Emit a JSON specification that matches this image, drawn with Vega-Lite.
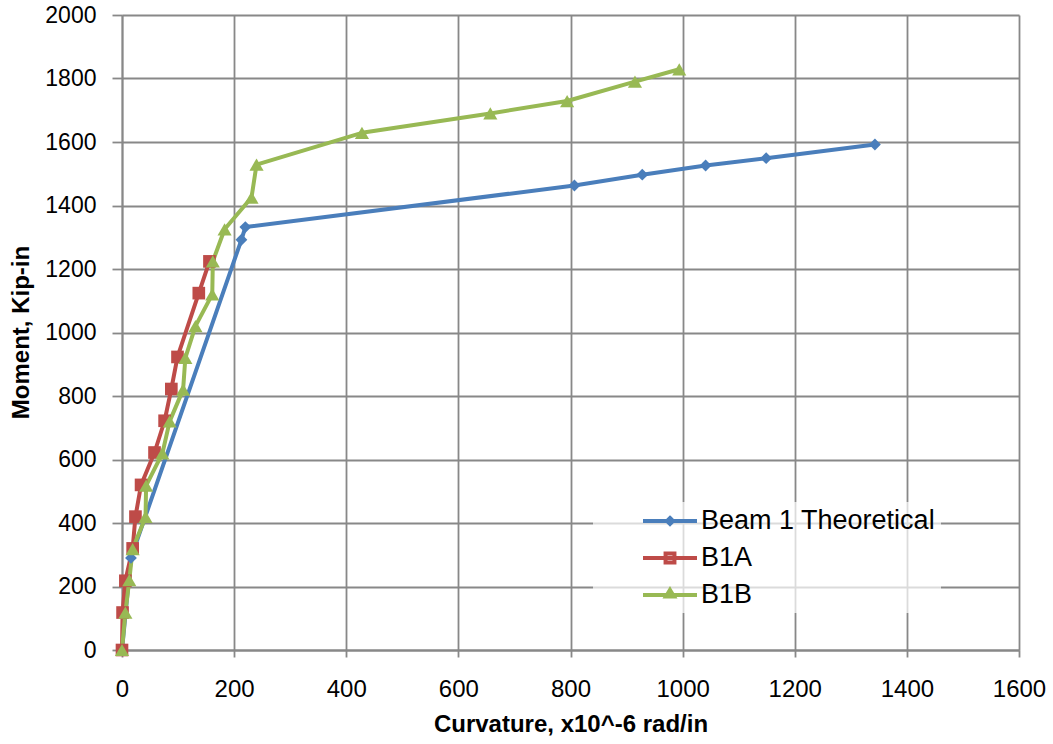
{
  "$schema": "https://vega.github.io/schema/vega-lite/v6.json",
  "width": 897,
  "height": 635,
  "autosize": "none",
  "padding": {"left": 122, "top": 15, "right": 34, "bottom": 94},
  "background": "white",
  "config": {
    "view": {"stroke": null},
    "axis": {
      "gridColor": "#888888",
      "gridWidth": 1.8,
      "domainColor": "#888888",
      "domainWidth": 1.8,
      "tickColor": "#888888",
      "tickWidth": 1.8,
      "labelColor": "#000000",
      "titleColor": "#000000",
      "labelFlush": false,
      "labelOverlap": false,
      "format": "d"
    },
    "legend": {
      "title": null,
      "orient": "none",
      "legendX": 471,
      "legendY": 487,
      "padding": 5,
      "fillColor": "rgba(255,255,255,0.7)",
      "symbolSize": 576,
      "symbolOffset": 58,
      "symbolStrokeWidth": 4,
      "labelFont": "Liberation Sans",
      "labelFontSize": 27,
      "labelColor": "#000000",
      "labelOffset": 17,
      "labelLimit": 0,
      "rowPadding": 10
    }
  },
  "data": {
    "values": [
      {"series": "Beam 1 Theoretical", "curvature": 0, "moment": 0},
      {"series": "Beam 1 Theoretical", "curvature": 16, "moment": 290},
      {"series": "Beam 1 Theoretical", "curvature": 213, "moment": 1292},
      {"series": "Beam 1 Theoretical", "curvature": 220, "moment": 1332},
      {"series": "Beam 1 Theoretical", "curvature": 807, "moment": 1463},
      {"series": "Beam 1 Theoretical", "curvature": 928, "moment": 1497},
      {"series": "Beam 1 Theoretical", "curvature": 1041, "moment": 1526},
      {"series": "Beam 1 Theoretical", "curvature": 1149, "moment": 1549},
      {"series": "Beam 1 Theoretical", "curvature": 1343, "moment": 1592},
      {"series": "B1A", "curvature": 0, "moment": 0},
      {"series": "B1A", "curvature": 1, "moment": 118},
      {"series": "B1A", "curvature": 6, "moment": 218},
      {"series": "B1A", "curvature": 19, "moment": 320},
      {"series": "B1A", "curvature": 24, "moment": 420},
      {"series": "B1A", "curvature": 34, "moment": 520},
      {"series": "B1A", "curvature": 58, "moment": 622},
      {"series": "B1A", "curvature": 76, "moment": 722},
      {"series": "B1A", "curvature": 88, "moment": 822},
      {"series": "B1A", "curvature": 99, "moment": 923},
      {"series": "B1A", "curvature": 137, "moment": 1124},
      {"series": "B1A", "curvature": 156, "moment": 1224},
      {"series": "B1B", "curvature": 0, "moment": 0},
      {"series": "B1B", "curvature": 6, "moment": 118},
      {"series": "B1B", "curvature": 13, "moment": 220},
      {"series": "B1B", "curvature": 19, "moment": 318},
      {"series": "B1B", "curvature": 42, "moment": 419},
      {"series": "B1B", "curvature": 43, "moment": 518},
      {"series": "B1B", "curvature": 72, "moment": 619},
      {"series": "B1B", "curvature": 85, "moment": 720},
      {"series": "B1B", "curvature": 109, "moment": 820},
      {"series": "B1B", "curvature": 113, "moment": 920},
      {"series": "B1B", "curvature": 131, "moment": 1020},
      {"series": "B1B", "curvature": 161, "moment": 1120},
      {"series": "B1B", "curvature": 162, "moment": 1224},
      {"series": "B1B", "curvature": 183, "moment": 1325},
      {"series": "B1B", "curvature": 231, "moment": 1425},
      {"series": "B1B", "curvature": 240, "moment": 1529},
      {"series": "B1B", "curvature": 428, "moment": 1629},
      {"series": "B1B", "curvature": 657, "moment": 1690},
      {"series": "B1B", "curvature": 794, "moment": 1729},
      {"series": "B1B", "curvature": 915, "moment": 1790},
      {"series": "B1B", "curvature": 994, "moment": 1829}
    ]
  },
  "encoding": {
    "x": {
      "field": "curvature",
      "type": "quantitative",
      "scale": {"domain": [0, 1600], "nice": false, "zero": true},
      "axis": {
        "values": [0, 200, 400, 600, 800, 1000, 1200, 1400, 1600],
        "title": "Curvature, x10^-6 rad/in",
        "labelFont": "Liberation Sans",
        "labelFontSize": 24,
        "labelPadding": 20,
        "tickSize": 7,
        "titleFont": "Liberation Sans",
        "titleFontSize": 24,
        "titleFontWeight": "bold",
        "titleY": 74,
        "titleBaseline": "middle"
      }
    },
    "y": {
      "field": "moment",
      "type": "quantitative",
      "scale": {"domain": [0, 2000], "nice": false},
      "axis": {
        "values": [0, 200, 400, 600, 800, 1000, 1200, 1400, 1600, 1800, 2000],
        "title": "Moment, Kip-in",
        "labelFont": "Liberation Sans",
        "labelFontSize": 23,
        "labelPadding": 16,
        "tickSize": 10,
        "titleFont": "Liberation Sans",
        "titleFontSize": 24,
        "titleFontWeight": "bold",
        "titleX": -101,
        "titleY": 317,
        "titleAlign": "center",
        "titleBaseline": "middle"
      }
    }
  },
  "layer": [
    {
      "transform": [{"filter": {"field": "series", "equal": "Beam 1 Theoretical"}}],
      "mark": {"type": "line", "color": "#4A7EBB", "strokeWidth": 4, "strokeJoin": "round"},
      "encoding": {"order": {"field": "moment", "type": "quantitative"}}
    },
    {
      "transform": [{"filter": {"field": "series", "equal": "B1A"}}],
      "mark": {"type": "line", "color": "#BE4B48", "strokeWidth": 4, "strokeJoin": "round"},
      "encoding": {"order": {"field": "moment", "type": "quantitative"}}
    },
    {
      "transform": [{"filter": {"field": "series", "equal": "B1B"}}],
      "mark": {"type": "line", "color": "#98B954", "strokeWidth": 4, "strokeJoin": "round"},
      "encoding": {"order": {"field": "moment", "type": "quantitative"}}
    },
    {
      "transform": [{"filter": {"field": "series", "equal": "Beam 1 Theoretical"}}],
      "mark": {"type": "point", "shape": "diamond", "color": "#4A7EBB", "filled": true, "opacity": 1, "size": 140}
    },
    {
      "transform": [{"filter": {"field": "series", "equal": "B1A"}}],
      "mark": {"type": "point", "shape": "square", "color": "#BE4B48", "filled": true, "opacity": 1, "size": 160}
    },
    {
      "transform": [{"filter": {"field": "series", "equal": "B1B"}}],
      "mark": {"type": "point", "shape": "triangle-up", "color": "#98B954", "filled": true, "opacity": 1, "size": 200}
    },
    {
      "mark": {"type": "point", "filled": false, "opacity": 1, "size": 0},
      "encoding": {
        "color": {
          "field": "series",
          "type": "nominal",
          "scale": {
            "domain": ["Beam 1 Theoretical", "B1A", "B1B"],
            "range": ["#4A7EBB", "#BE4B48", "#98B954"]
          },
          "legend": {"title": null}
        },
        "shape": {
          "field": "series",
          "type": "nominal",
          "scale": {
            "domain": ["Beam 1 Theoretical", "B1A", "B1B"],
            "range": [
              "M-2.25,0H2.25M0,-0.25L0.25,0L0,0.25L-0.25,0Z",
              "M-2.25,0H2.25M-0.37,-0.37H0.37V0.37H-0.37Z",
              "M-2.25,0H2.25M0,-0.42L0.33,0.12H-0.33Z"
            ]
          },
          "legend": {"title": null}
        }
      }
    }
  ]
}
